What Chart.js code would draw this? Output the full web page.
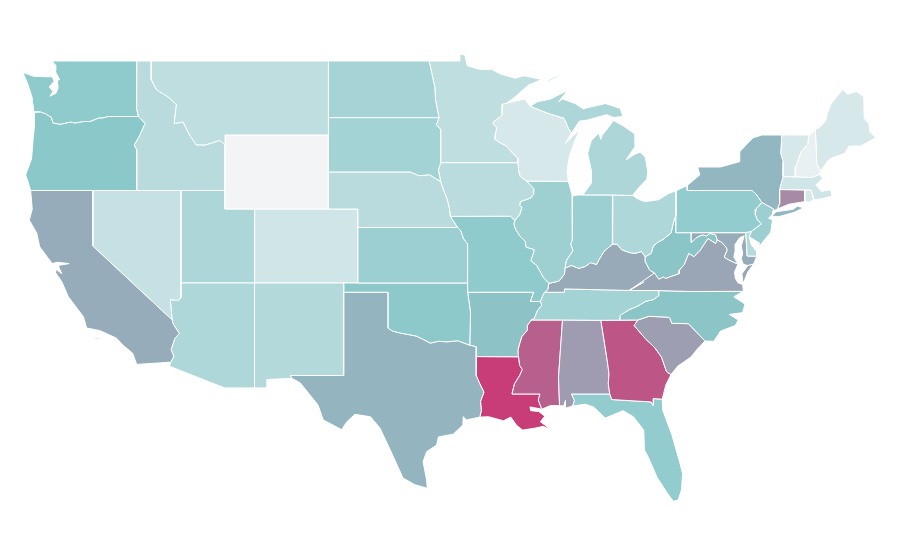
<!DOCTYPE html>
<html>
<head>
<meta charset="utf-8">
<title>Mapa</title>
<script src="https://cdn.jsdelivr.net/npm/chart.js@4"></script>
<style>
  html, body { margin: 0; background: #fff; }
  canvas { display: block; }
</style>
</head>
<body>
<canvas id="myChart" width="900" height="560"></canvas>
<script>
// Shared borders, as [lon, lat]
const columbia = [[-116.92,46],[-118.98,46],[-119.3,45.93],[-119.6,45.92],[-120.2,45.73],[-120.65,45.73],[-121.2,45.65],[-121.5,45.7],[-122.2,45.58],[-122.7,45.65],[-122.8,45.95],[-123.2,46.15],[-123.55,46.25]];
const snakeOrId = [[-116.92,46],[-116.47,45.62],[-116.85,44.95],[-117.2,44.45],[-117.03,44.2],[-117.03,42]];
const mtId = [[-116.05,49],[-116.05,48],[-115.7,47.45],[-114.9,47.05],[-114.35,46.65],[-114.5,45.6],[-113.9,45.7],[-113.45,45],[-113,44.46],[-112.4,44.45],[-111.4,44.7],[-111.05,44.47]];
const colorado = [[-114.63,35],[-114.57,34.8],[-114.15,34.27],[-114.45,34],[-114.7,33.4],[-114.52,33.03],[-114.72,32.72]];
const redRiver = [[-100,34.56],[-99.7,34.4],[-99.2,34.3],[-98.1,34.13],[-97.7,33.98],[-97.15,33.75],[-96.6,33.85],[-96,33.82],[-95.3,33.88],[-94.48,33.64]];
const sabine = [[-94.04,31.99],[-93.8,31.55],[-93.52,31.1],[-93.75,30.6],[-93.7,30.1],[-93.8,29.75]];
const missouriUp = [[-95.3,40],[-95.8,40.6],[-95.85,41],[-96,41.5],[-96.25,42],[-96.45,42.49]];
const mnWi = [[-92.02,46.71],[-92.29,46.66],[-92.29,46.07],[-92.87,45.71],[-92.88,45.57],[-92.65,45.4],[-92.76,45],[-92.76,44.75],[-92.4,44.56],[-92,44.4],[-91.6,44.03],[-91.25,43.77],[-91.22,43.5]];
const wiIa = [[-91.22,43.5],[-91.16,43],[-91.06,42.75],[-90.64,42.51]];
const ilIa = [[-90.64,42.51],[-90.42,42.33],[-90.15,42.1],[-90.16,41.8],[-90.34,41.6],[-91.05,41.4],[-91.1,41.2],[-90.95,41.07],[-91.1,40.7],[-91.42,40.38]];
const ilMo = [[-91.42,40.38],[-91.5,40.2],[-91.4,39.93],[-91.1,39.55],[-90.73,39.25],[-90.67,38.93],[-90.12,38.8],[-90.18,38.6],[-90.35,38.2],[-89.95,37.95],[-89.5,37.3],[-89.13,36.98]];
const kyTnMo = [[-89.13,36.98],[-89.2,36.63],[-89.42,36.5],[-89.55,36.3],[-89.7,36]];
const tnAr = [[-89.7,36],[-89.6,35.8],[-89.9,35.5],[-90.1,35.1],[-90.3,35]];
const msAr = [[-90.3,35],[-90.58,34.7],[-90.57,34.45],[-90.95,34.1],[-91.1,33.7],[-91.2,33.4],[-91.17,33]];
const msLa = [[-91.17,33],[-91.1,32.55],[-90.92,32.33],[-91.1,32],[-91.45,31.55],[-91.62,31],[-89.73,31],[-89.84,30.67],[-89.6,30.18]];
const ilKy = [[-89.13,36.98],[-88.45,37.1],[-88.07,37.47],[-88.03,37.8]];
const inKy = [[-88.03,37.8],[-87.6,37.95],[-87.1,37.79],[-86.65,37.9],[-86.3,38.1],[-85.9,38],[-85.7,38.3],[-85.4,38.7],[-84.82,39.1]];
const ohKy = [[-84.82,39.1],[-84.5,39.1],[-84.2,38.8],[-83.7,38.65],[-83.3,38.6],[-82.85,38.7],[-82.6,38.42]];
const ohWv = [[-82.6,38.42],[-82.2,38.6],[-82.05,39],[-81.75,39.2],[-81.4,39.35],[-80.85,39.7],[-80.65,40.4],[-80.52,40.64]];
const kyWv = [[-82.6,38.42],[-82.6,38.17],[-82.3,37.7],[-81.97,37.54]];
const kyVa = [[-81.97,37.54],[-82.7,37.05],[-83.68,36.6]];
const wvVa = [[-81.97,37.54],[-81.68,37.2],[-81.35,37.32],[-81.22,37.24],[-80.85,37.35],[-80.3,37.5],[-80.3,37.68],[-79.95,38],[-79.65,38.59],[-79.3,38.42],[-78.87,38.77],[-78.35,39.4],[-77.83,39.13],[-77.72,39.32]];
const mdWv = [[-79.48,39.2],[-79.1,39.47],[-78.75,39.6],[-78.45,39.55],[-78.2,39.68],[-77.83,39.6],[-77.72,39.32]];
const potomac = [[-77.72,39.32],[-77.45,39.22],[-77.12,38.93],[-77.04,38.79],[-77.25,38.4],[-76.95,38.25],[-76.32,38.02]];
const tnNc = [[-81.68,36.59],[-81.7,36.3],[-82.05,36.1],[-82.6,36],[-83.1,35.75],[-83.7,35.55],[-84.3,35.25],[-84.32,34.99]];
const gaSc = [[-83.1,35],[-83.35,34.7],[-82.6,34],[-81.95,33.5],[-81.5,33],[-81.15,32.2],[-80.85,32.05]];
const ncSc = [[-83.1,35],[-82.35,35.2],[-81.04,35.15],[-80.93,35.1],[-80.8,34.82],[-79.67,34.8],[-78.55,33.86]];
const gaAl = [[-85.6,34.98],[-85.18,32.85],[-85.05,32.1],[-85.1,31.55],[-85,31]];
const gaFl = [[-85,31],[-84.86,30.7],[-82.2,30.57],[-82.05,30.37],[-82.05,30.75],[-81.45,30.72]];
const wiMiUp = [[-90.4,46.55],[-89.1,46.14],[-88.1,45.9],[-87.8,45.35],[-87.6,45.1]];
const wabash = [[-87.53,39.35],[-87.65,39.1],[-87.5,38.75],[-87.95,38.2],[-88.03,37.8]];
const delaware = [[-74.7,41.36],[-75.1,41],[-75.15,40.7],[-75,40.4],[-74.73,40.2],[-75.4,39.8]];
const vtNh = [[-71.5,45],[-71.6,44.5],[-72.05,44.1],[-72.4,43.3],[-72.45,42.73]];

function rev(seg) { return seg.slice().reverse(); }

// Each state is one or more rings of [lon, lat]
const WA = [[[-117.03,49],[-117.04,46.42],...columbia,[-124,46.27],[-124.05,46.7],[-124.1,47],[-124.4,47.75],[-124.73,48.38],[-124,48.17],[-123.1,48.15],[-122.75,48.15],[-122.62,47.9],[-122.95,47.6],[-122.7,47.35],[-122.9,47.1],[-122.5,47.25],[-122.35,47.55],[-122.4,47.95],[-122.25,48],[-122.55,48.45],[-122.5,48.75],[-122.76,49]]];
const OR = [[...snakeOrId,[-124.21,42],[-124.4,42.5],[-124.55,42.85],[-124.15,43.7],[-124.05,44.7],[-123.95,45.5],[-123.95,46.2],...rev(columbia)]];
const CA = [[[-124.21,42],[-120,42],[-120,39],...colorado,[-117.03,32.6],[-117.3,33.2],[-117.9,33.6],[-118.4,34.02],[-119.5,34.42],[-120.42,34.57],[-120.64,35.18],[-121.66,36.26],[-122.1,37.07],[-122.56,37.6],[-122.5,37.75],[-122.1,37.5],[-122.35,37.95],[-121.6,38.05],[-122.4,38.12],[-122.75,38.05],[-123.6,38.96],[-123.8,39.7],[-124.3,40.4],[-124.1,41]],[[-119.9,33.98],[-119.55,33.98],[-119.55,34.05],[-119.9,34.05]]];
const NV = [[[-120,42],[-114.04,42],[-114.04,36.2],[-114.25,36.05],[-114.75,36.1],[-114.63,35],[-120,39]]];
const ID = [[[-117.03,49],...mtId,[-111.05,42],...rev(snakeOrId),[-117.04,46.42]]];
const MT = [[...mtId,[-111.05,45],[-104.05,45],[-104.05,49]]];
const WY = [[[-111.05,45],[-104.05,45],[-104.05,41],[-111.05,41]]];
const ND = [[[-104.05,49],[-97.23,49],[-96.85,47.6],[-96.8,46.9],[-96.56,45.94],[-104.05,45.94]]];
const SD = [[[-104.05,45.94],[-96.56,45.94],[-96.75,45.55],[-96.45,45.3],[-96.45,43.5],[-96.6,43.1],[-96.45,42.49],[-96.7,42.6],[-97.2,42.85],[-97.9,42.8],[-98.5,43],[-104.05,43]]];
const NE = [[[-104.05,43],[-98.5,43],[-97.9,42.8],[-97.2,42.85],[-96.7,42.6],...rev(missouriUp),[-102.05,40],[-102.05,41],[-104.05,41]]];
const IA = [[[-96.45,43.5],...wiIa,...ilIa.slice(1),[-91.73,40.61],[-95.8,40.6],[-95.85,41],[-96,41.5],[-96.25,42],[-96.45,42.49],[-96.6,43.1]]];
const MO = [[[-95.8,40.6],[-91.73,40.61],...ilMo,...kyTnMo.slice(1),[-90.37,36],[-90.15,36.5],[-94.62,36.5],[-94.62,39.1],[-94.9,39.4],[-95.1,39.85],[-95.3,40]]];
const KS = [[[-102.05,40],[-95.3,40],[-95.1,39.85],[-94.9,39.4],[-94.62,39.1],[-94.62,37],[-102.05,37]]];
const OK = [[[-103,37],[-94.62,37],[-94.62,36.5],[-94.43,35.4],...rev(redRiver),[-100,36.5],[-103,36.5]]];
const TX = [[[-103,36.5],[-100,36.5],...redRiver,[-94.04,33.55],[-94.04,33.02],...sabine,[-94.7,29.6],[-94.92,29.77],[-94.95,29.32],[-95.6,28.83],[-96.6,28.68],[-96.72,28.24],[-97.4,27.88],[-97.64,27.34],[-97.4,26.35],[-97.35,25.9],[-98.2,26.1],[-99,26.46],[-99.76,27.8],[-100.56,29.16],[-101.2,29.77],[-102.25,29.9],[-102.8,29.5],[-103.15,29.07],[-104.4,29.6],[-104.75,30.4],[-105.95,31.6],[-106.53,31.85],[-106.62,32],[-103.06,32]]];
const NM = [[[-109.05,37],[-103,37],[-103,36.5],[-103.06,32],[-106.62,32],[-106.53,31.85],[-108.2,31.78],[-108.2,31.33],[-109.05,31.33]]];
const AZ = [[[-114.04,37],[-109.05,37],[-109.05,31.33],[-111.07,31.33],[-114.81,32.5],...rev(colorado),[-114.75,36.1],[-114.25,36.05],[-114.04,36.2]]];
const UT = [[[-114.04,42],[-111.05,42],[-111.05,41],[-109.05,41],[-109.05,37],[-114.04,37]]];
const CO = [[[-109.05,41],[-102.05,41],[-102.05,37],[-109.05,37]]];
const MN = [[[-97.23,49],[-95.15,49],[-95.15,49.38],[-94.82,49.32],[-94.65,48.74],[-93.8,48.55],[-93,48.55],[-92.4,48.3],[-91.4,48.07],[-90.8,48.2],[-89.6,48],[-90.5,47.7],[-91.5,47],...mnWi,[-96.45,43.5],[-96.45,45.3],[-96.75,45.55],[-96.56,45.94],[-96.8,46.9],[-96.85,47.6]]];
const WI = [[[-92.02,46.71],[-91.2,46.87],[-90.75,46.95],...wiMiUp,[-88,44.55],[-87.55,44.9],[-87.05,45.28],[-87.5,44.4],[-87.75,43.8],[-87.9,43],[-87.8,42.49],...rev(wiIa),...rev(mnWi)]];
const MI = [[[-86.82,41.76],[-84.8,41.76],[-83.45,41.73],[-83.15,42.05],[-82.5,42.6],[-82.42,43],[-82.6,43.8],[-82.95,44.07],[-83.35,43.95],[-83.9,43.65],[-83.35,44.3],[-83.3,45.05],[-84.1,45.5],[-84.75,45.78],[-85.1,45.4],[-85.5,45],[-85.6,44.77],[-85.75,45.1],[-86.25,44.7],[-86.5,44],[-86.25,43.1],[-86.25,42.4],[-86.6,42]],
  [...wiMiUp,[-87.05,45.75],[-86.56,45.8],[-85.2,46.1],[-84.75,45.95],[-84.1,46],[-84.3,46.44],[-85.3,46.7],[-86.8,46.42],[-87.35,46.7],[-88.2,46.95],[-88.45,46.8],[-87.85,47.42],[-89,46.95],[-89.9,46.8]],
  [[-89.2,47.87],[-88.5,48.15],[-88.55,48.2],[-89.2,47.95]]];
const IL = [[[-90.64,42.51],[-87.8,42.49],[-87.55,41.75],[-87.53,41.7],...wabash,[-88.07,37.47],[-88.45,37.1],...rev(ilMo),...rev(ilIa)]];
const IN = [[[-87.53,41.7],[-87.2,41.75],[-86.82,41.76],[-84.8,41.76],[-84.82,39.1],...rev(inKy),...rev(wabash).slice(1)]];
const OH = [[[-84.8,41.76],[-83.45,41.73],[-83,41.5],[-82.6,41.4],[-81.7,41.5],[-81,41.85],[-80.52,41.98],...rev(ohWv),...rev(ohKy)]];
const PA = [[[-80.52,41.98],[-79.76,42.27],[-79.76,42],[-75.35,42],[-75.1,41.8],...delaware,[-75.79,39.72],[-80.52,39.72]]];
const NY = [[[-79.76,42],[-79.76,42.27],[-78.9,42.85],[-79.05,43.27],[-77.5,43.27],[-76.25,43.55],[-76.2,44.1],[-75.3,44.85],[-74.7,45],[-73.35,45],[-73.43,44],[-73.25,43.55],[-73.27,42.75],[-73.5,42.05],[-73.5,41.3],[-73.65,41],[-73.9,40.9],[-74,40.7],[-73.9,41],[-74.7,41.36],[-75.1,41.8],[-75.35,42]],
  [[-74.03,40.6],[-73.75,40.85],[-72.6,40.98],[-72.3,41.15],[-71.87,41.07],[-72.5,40.82],[-73.5,40.6]]];
const NJ = [[...delaware,[-75.55,39.5],[-74.95,39.2],[-74.9,38.95],[-74.1,39.75],[-73.98,40.4],[-74.25,40.5],[-74,40.7],[-73.9,41]]];
const DE = [[[-75.79,39.72],[-75.4,39.8],[-75.55,39.45],[-75.4,39.05],[-75.05,38.7],[-75.05,38.45],[-75.7,38.46]]];
const MD = [[[-79.48,39.72],[-75.79,39.72],[-75.7,38.46],[-75.05,38.45],[-75.25,38.03],[-75.65,37.95],[-75.95,38],[-76.1,38.3],[-76,38.6],[-76.1,39],[-75.95,39.4],[-75.9,39.55],[-76.2,39.45],[-76.5,39.1],[-76.5,38.8],[-76.6,38.4],...rev(potomac),...rev(mdWv)]];
const CT = [[[-73.5,42.05],[-71.8,42.02],[-71.8,41.4],[-72.9,41.25],[-73.65,41],[-73.5,41.3]]];
const RI = [[[-71.8,42.02],[-71.38,42.02],[-71.2,41.5],[-71.5,41.37],[-71.8,41.4]]];
const MA = [[[-73.5,42.05],[-73.27,42.75],[-72.45,42.73],[-71.3,42.7],[-70.82,42.87],[-70.6,42.65],[-71.05,42.3],[-70.65,41.95],[-70.05,42.05],[-69.95,41.7],[-70.65,41.55],[-71.15,41.5],[-71.38,42.02],[-71.8,42.02]]];
const VT = [[[-73.35,45],...vtNh,[-73.27,42.75],[-73.25,43.55],[-73.43,44]]];
const NH = [[...vtNh,[-71.3,42.7],[-70.82,42.87],[-70.7,43.07],[-70.98,43.4],[-71.08,45.3]]];
const ME = [[[-71.08,45.3],[-70.8,45.4],[-70.4,45.75],[-70.25,46.2],[-70,46.7],[-69.23,47.46],[-68.9,47.2],[-68.3,47.35],[-67.8,47.07],[-67.78,45.9],[-67.45,45.6],[-67.4,45.2],[-67,44.85],[-68,44.4],[-68.8,44.4],[-69.1,44],[-70,43.75],[-70.25,43.6],[-70.7,43.07],[-70.98,43.4]]];
const VA = [[[-83.68,36.6],[-81.68,36.59],[-79.5,36.54],[-75.95,36.55],[-76,36.92],[-76.3,37],[-76.5,37.25],[-76.55,37.6],[-76.32,38.02],...rev(potomac).slice(1),...rev(wvVa).slice(1),...rev(kyVa).slice(0,2)],
  [[-75.98,36.95],[-75.65,37.6],[-75.25,38.03],[-75.65,37.95],[-76.05,37.5]]];
const WV = [[[-80.52,40.64],[-80.52,39.72],[-79.48,39.72],...mdWv,...rev(wvVa).slice(1),...rev(kyWv).slice(1),...ohWv.slice(1,-1)]];
const KY = [[[-89.42,36.5],[-88.07,36.5],[-88.07,36.68],[-86.5,36.65],...rev(kyVa),...rev(kyWv).slice(1),...rev(ohKy).slice(1),...rev(inKy).slice(1),...ilKy.slice(0,-1).reverse(),[-89.2,36.63]]];
const TN = [[[-89.42,36.5],[-88.07,36.5],[-88.07,36.68],[-86.5,36.65],[-83.68,36.6],...tnNc,[-85.6,34.98],[-88.2,35],...rev(tnAr),[-89.55,36.3]]];
const NC = [[...tnNc.slice(0,1),[-79.5,36.54],[-75.95,36.55],[-76.6,36.25],[-76.1,36],[-75.85,35.85],[-76,35.4],[-76.9,35.3],[-76.3,35],[-76.5,34.7],[-77.5,34.4],[-77.95,33.85],...rev(ncSc),[-84.32,34.99],...rev(tnNc).slice(1)]];
const SC = [[...ncSc,[-79.1,33.4],[-79.5,33],[-80.4,32.5],...rev(gaSc)]];
const GA = [[...gaAl.slice(0,1),[-84.32,34.99],...gaSc,[-81.2,31.5],...rev(gaFl),...rev(gaAl).slice(1)]];
const AL = [[[-88.2,35],...gaAl,[-87.6,31],[-87.4,30.65],[-87.52,30.35],[-88,30.23],[-88,30.65],[-88.12,30.35],[-88.4,30.37],[-88.47,31.9]]];
const MS = [[[-90.3,35],[-88.2,35],[-88.47,31.9],[-88.4,30.37],[-89,30.38],...rev(msLa).slice(0,4),...rev(msLa).slice(4),...rev(msAr).slice(1)]];
const LA = [[[-94.04,33.02],...msLa,[-90.4,30.3],[-90.35,30.1],[-89.8,30.05],[-89.4,29.8],[-89.7,29.5],[-89.35,29.3],[-89.1,29.1],[-89.5,29.25],[-90.1,29.15],[-90.9,29.05],[-91.3,29.3],[-91.7,29.75],[-92.2,29.55],[-93.2,29.77],...rev(sabine)]];
const AR = [[[-94.62,36.5],[-90.15,36.5],[-90.37,36],...tnAr,...msAr.slice(1),[-94.04,33.02],[-94.04,33.55],[-94.48,33.64],[-94.43,35.4]]];
const FL = [[[-87.6,31],...gaFl,[-81.4,30.1],[-80.8,28.8],[-80.25,27.27],[-80.07,26.7],[-80.15,25.8],[-80.37,25.27],[-80.7,25.2],[-81.15,25.7],[-81.8,26.5],[-82.4,27.6],[-82.65,27.97],[-82.7,29.05],[-83.4,29.77],[-84.1,30.1],[-85.3,29.7],[-86.1,30.3],[-86.67,30.45],[-87.52,30.35],[-87.4,30.65]]];

const states = ['WA','OR','CA','NV','ID','MT','WY','ND','SD','NE','IA','MO','KS','OK','TX','NM','AZ','UT','CO','MN','WI','MI','IL','IN','OH','PA','NY','NJ','DE','MD','CT','RI','MA','VT','NH','ME','VA','WV','KY','TN','NC','SC','GA','AL','MS','LA','AR','FL'];
const values = [48,50,60,22,28,25,0,37,38,28,27,48,42,49,57,31,33,34,17,25,14,34,41,42,33,46,56,42,30,60,72,14,17,14,5,14,62,51,61,38,51,65,91,66,87,100,52,46];
const shapes = [WA,OR,CA,NV,ID,MT,WY,ND,SD,NE,IA,MO,KS,OK,TX,NM,AZ,UT,CO,MN,WI,MI,IL,IN,OH,PA,NY,NJ,DE,MD,CT,RI,MA,VT,NH,ME,VA,WV,KY,TN,NC,SC,GA,AL,MS,LA,AR,FL];

// Color scale: light grey -> teal -> magenta
function colorFor(v) {
  const low = [243, 244, 246], mid = [139, 200, 202], high = [200, 60, 120];
  const a = v < 50 ? low : mid, b = v < 50 ? mid : high;
  const t = v < 50 ? v / 50 : (v - 50) / 50;
  return 'rgb(' + a.map((c, i) => Math.round(c + (b[i] - c) * t)).join(',') + ')';
}

let datasets = [];
states.forEach(function(name, i) {
  shapes[i].forEach(function(ring) {
    datasets.push({
      label: name,
      data: ring.concat([ring[0]]).map(p => ({ x: p[0], y: p[1] })),
      showLine: true,
      fill: 'shape',
      backgroundColor: colorFor(values[i]),
      borderColor: '#ffffff',
      borderWidth: 1,
      pointRadius: 0,
      pointHoverRadius: 0,
      tension: 0
    });
  });
});

let ctx = document.getElementById('myChart').getContext('2d');
let myChart = new Chart(ctx, {
  type: 'scatter',
  data: { datasets: datasets },
  options: {
    responsive: false,
    animation: false,
    devicePixelRatio: 1,
    layout: { padding: 0 },
    plugins: { legend: { display: false }, tooltip: { enabled: false } },
    scales: {
      x: { type: 'linear', min: -126.284, max: -65.35, display: false },
      y: { type: 'linear', min: 22.027, max: 52.297, display: false }
    }
  }
});
</script>
</body>
</html>
